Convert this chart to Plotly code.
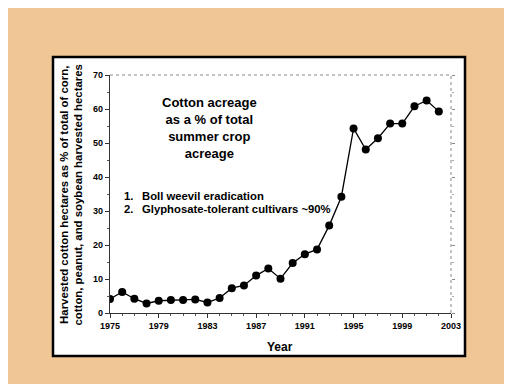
import plotly.graph_objects as go

years = list(range(1975, 2003))
cotton_pct = [4.1, 6.2, 4.2, 2.8, 3.6, 3.8, 3.8, 4.0, 3.1, 4.4,
              7.3, 8.1, 11.0, 13.1, 10.1, 14.7, 17.3, 18.7, 25.7, 34.2,
              54.3, 48.1, 51.4, 55.7, 55.7, 60.8, 62.5, 59.3]
x_ticks = [1975, 1979, 1983, 1987, 1991, 1995, 1999, 2003]
y_ticks = [0, 10, 20, 30, 40, 50, 60, 70]

FONT = "Liberation Sans, Arial, sans-serif"

# plot area in pixels
L, R, T, B = 102, 443, 67, 305
W, H = 512, 384
def px(x):
    return (x - L) / (R - L)
def py(y):
    return (B - y) / (B - T)

fig = go.Figure()
fig.add_trace(go.Scatter(
    x=years, y=cotton_pct, mode="lines+markers",
    line=dict(color="black", width=1.3),
    marker=dict(color="black", size=8),
    showlegend=False, hoverinfo="skip"))
fig.add_trace(go.Scatter(x=[1975], y=[0], yaxis="y2", mode="markers",
                         marker=dict(opacity=0), showlegend=False, hoverinfo="skip"))

shapes = [
    dict(type="rect", xref="paper", yref="paper", x0=px(45), x1=px(457),
         y0=py(348), y1=py(49), fillcolor="white", line=dict(color="black", width=2.5),
         layer="below"),
    dict(type="line", xref="paper", yref="paper", x0=0, x1=1, y0=1, y1=1,
         line=dict(color="#888888", width=1, dash="dot")),
    dict(type="line", xref="paper", yref="paper", x0=1, x1=1, y0=0, y1=1,
         line=dict(color="#888888", width=1, dash="dot")),
]

annotations = [
    dict(xref="paper", yref="paper", x=px(201), y=py(120),
         text="<b>Cotton acreage<br>as a % of total<br>summer crop<br>acreage</b>",
         showarrow=False, font=dict(family=FONT, size=13, color="black"),
         align="center", xanchor="center", yanchor="middle"),
    dict(xref="paper", yref="paper", x=px(114), y=py(188), text="<b>1.</b>",
         showarrow=False, font=dict(family=FONT, size=11.3, color="black"),
         xanchor="left", yanchor="middle"),
    dict(xref="paper", yref="paper", x=px(114), y=py(201), text="<b>2.</b>",
         showarrow=False, font=dict(family=FONT, size=11.3, color="black"),
         xanchor="left", yanchor="middle"),
    dict(xref="paper", yref="paper", x=px(132), y=py(188), text="<b>Boll weevil eradication</b>",
         showarrow=False, font=dict(family=FONT, size=11.3, color="black"),
         xanchor="left", yanchor="middle"),
    dict(xref="paper", yref="paper", x=px(132), y=py(201),
         text="<b>Glyphosate-tolerant cultivars ~90%</b>",
         showarrow=False, font=dict(family=FONT, size=11.3, color="black"),
         xanchor="left", yanchor="middle"),
    dict(xref="paper", yref="paper", x=px(62.5), y=py(187),
         text="<b>Harvested cotton hectares as % of total of corn,<br>cotton, peanut, and soybean harvested hectares</b>",
         showarrow=False, textangle=-90, font=dict(family=FONT, size=11.4, color="black"),
         xanchor="center", yanchor="middle", align="center"),
    dict(xref="paper", yref="paper", x=px(272), y=py(339), text="<b>Year</b>",
         showarrow=False, font=dict(family=FONT, size=12, color="black"),
         xanchor="center", yanchor="middle"),
]

fig.update_layout(
    width=W, height=H, autosize=False,
    margin=dict(l=L, r=W - R, t=T, b=H - B),
    paper_bgcolor="#EFC694", plot_bgcolor="white",
    font=dict(family=FONT, color="black"),
    shapes=shapes, annotations=annotations,
    xaxis=dict(range=[1975, 2003], tickvals=x_ticks,
               ticktext=[f"<b>{v}</b>" for v in x_ticks],
               ticks="outside", ticklen=4, tickcolor="#333", showgrid=False,
               zeroline=False, showline=True, linecolor="#333", linewidth=1.2,
               tickfont=dict(family=FONT, size=9, color="black"),
               minor=dict(dtick=1, tick0=1975, ticks="outside", ticklen=2, tickcolor="#555")),
    yaxis=dict(range=[0, 70], tickvals=y_ticks,
               ticktext=[f"<b>{v}</b>" for v in y_ticks],
               ticks="outside", ticklen=4, tickcolor="#333", showgrid=False,
               zeroline=False, showline=True, linecolor="#333", linewidth=1.2,
               tickfont=dict(family=FONT, size=9, color="black"),
               minor=dict(dtick=5, ticks="outside", ticklen=2, tickcolor="#555")),
    yaxis2=dict(range=[0, 70], overlaying="y", side="right", showticklabels=False,
                tickvals=y_ticks, ticks="outside", ticklen=3, tickcolor="#888",
                showgrid=False, zeroline=False, showline=False,
                minor=dict(dtick=5, ticks="outside", ticklen=2, tickcolor="#aaa")),
)

fig.write_html("out.html")
